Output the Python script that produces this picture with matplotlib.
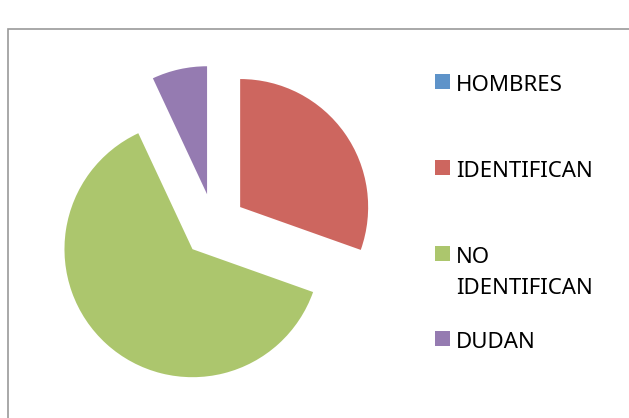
import matplotlib.pyplot as plt
from matplotlib.patches import Rectangle

# datos
categorias = ['HOMBRES', 'IDENTIFICAN', 'NO\nIDENTIFICAN', 'DUDAN']
valores = [0, 35, 72, 8]
colores = ['#5E93C9', '#CD665F', '#ACC66D', '#957BB1']

W, H = 629, 418
fig = plt.figure(figsize=(W / 100, H / 100), dpi=100)

# marco gris del grafico
fig.add_artist(Rectangle((8 / W, -0.1), 2, (H - 29) / H + 0.1,
                         transform=fig.transFigure, fill=False,
                         ec='#9A9A9A', lw=1.2))

# pastel (1 unidad = 128 px, centro en x=214, y=225.5 desde arriba)
ax = fig.add_axes([22 / W, 0.5 / H, 384 / W, 384 / H])
ax.pie(valores, colors=colores, startangle=90, counterclock=False,
       explode=[0.25] * len(valores), radius=1,
       wedgeprops=dict(linewidth=0))
ax.set_xlim(-1.5, 1.5)
ax.set_ylim(-1.5, 1.5)
ax.set_aspect('equal')
ax.axis('off')

# leyenda manual
filas = [91, 177, 263, 348]
for cat, col, base in zip(categorias, colores, filas):
    fig.add_artist(Rectangle((435 / W, (H - base + 2) / H), 15 / W, 15 / H,
                             transform=fig.transFigure, color=col, lw=0))
    for i, linea in enumerate(cat.split('\n')):
        fig.text(456 / W, (H - base - i * 31) / H, linea, fontsize=16,
                 family='Noto Sans', va='baseline', ha='left', color='black')

plt.savefig('out.png', dpi=100)
